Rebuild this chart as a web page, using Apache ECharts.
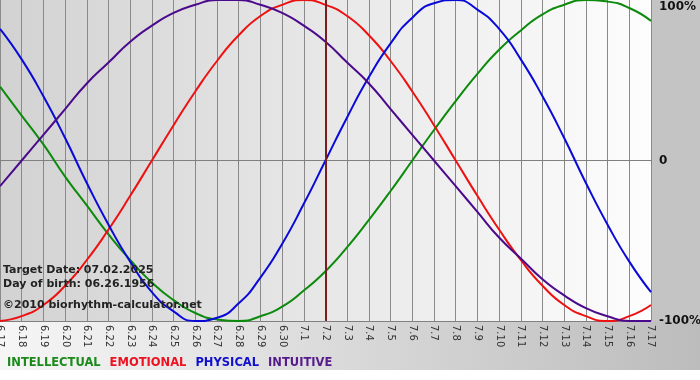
<!DOCTYPE html>
<html>
<head>
<meta charset="utf-8">
<script src="https://cdn.jsdelivr.net/npm/echarts@6/dist/echarts.min.js"></script>
<style>
html,body{margin:0;padding:0;background:#fff;}
#c{width:700px;height:380px;}
</style>
</head>
<body>
<div id="c"></div>
<script>
var days = ['6.17','6.18','6.19','6.20','6.21','6.22','6.23','6.24','6.25','6.26','6.27','6.28','6.29','6.30',
            '7.1','7.2','7.3','7.4','7.5','7.6','7.7','7.8','7.9','7.10','7.11','7.12','7.13','7.14','7.15','7.16','7.17'];
var intellectual = [0.46,0.28,0.10,-0.10,-0.28,-0.46,-0.62,-0.76,-0.87,-0.95,-0.99,-1.00,-0.97,-0.91,-0.81,-0.69,
                    -0.54,-0.37,-0.19,0.00,0.19,0.37,0.54,0.69,0.81,0.91,0.97,1.00,0.99,0.95,0.87];
var emotional = [-1.00,-0.97,-0.90,-0.78,-0.62,-0.43,-0.22,0.00,0.22,0.43,0.62,0.78,0.90,0.97,1.00,0.97,
                 0.90,0.78,0.62,0.43,0.22,0.00,-0.22,-0.43,-0.62,-0.78,-0.90,-0.97,-1.00,-0.97,-0.90];
var physical = [0.82,0.63,0.40,0.14,-0.14,-0.40,-0.63,-0.82,-0.94,-1.00,-0.98,-0.89,-0.73,-0.52,-0.27,0.00,
                0.27,0.52,0.73,0.89,0.98,1.00,0.94,0.82,0.63,0.40,0.14,-0.14,-0.40,-0.63,-0.82];
var intuitive = [-0.16,0.00,0.16,0.32,0.48,0.61,0.74,0.84,0.92,0.97,1.00,1.00,0.97,0.92,0.84,0.74,
                 0.61,0.48,0.32,0.16,0.00,-0.16,-0.32,-0.48,-0.61,-0.74,-0.84,-0.92,-0.97,-1.00,-1.00];
var yTicks = {'1':'100%','0':'0','-1':'-100%'};
var targetDay = '7.2';
var infoLines = ['Target Date: 07.02.2025','Day of birth: 06.26.1956','\u00a92010 biorhythm-calculator.net'];
var legendNames = ['INTELLECTUAL','EMOTIONAL','PHYSICAL','INTUITIVE'];
var colors = ['#0b8a0b','#ee1111','#0a0ad8','#4b0a8c'];
var legendColors = ['#1a8a1a','#ee1122','#1010cc','#551a8b'];

var chart = echarts.init(document.getElementById('c'), null, {renderer:'canvas'});
var FONT = 'Verdana, "DejaVu Sans", sans-serif';
var seriesData = [intellectual, emotional, physical, intuitive];
var series = seriesData.map(function(d, i){
  var s = {
    name: legendNames[i], type:'line', data:d, smooth:0.55, showSymbol:false, symbol:'none',
    lineStyle:{color:colors[i], width:2}, itemStyle:{color:colors[i]}, z:3+i, clip:false,
    emphasis:{disabled:true}
  };
  if(i===0){
    s.markLine = {silent:true, symbol:['none','none'], label:{show:false},
      lineStyle:{color:'#7a1f1f', width:2, type:'solid'},
      data:[{xAxis:targetDay}], z:10};
  }
  return s;
});
chart.setOption({
  animation:false,
  backgroundColor:'#ffffff',
  graphic:[
    {type:'rect', left:0, top:0, z:-10, silent:true, shape:{x:0,y:0,width:700,height:370},
     style:{fill:{type:'linear',x:0,y:0,x2:1,y2:0,colorStops:[{offset:0,color:'#f6f6f6'},{offset:1,color:'#bcbcbc'}]}}},
    {type:'rect', left:651, top:0, z:-9, silent:true, shape:{x:0,y:0,width:49,height:321},
     style:{fill:'#c4c4c4'}},
    {type:'text', left:3, top:265, z:20, style:{text:infoLines[0], font:'bold 11px '+FONT, fill:'#222'}},
    {type:'text', left:3, top:279, z:20, style:{text:infoLines[1], font:'bold 11px '+FONT, fill:'#222'}},
    {type:'text', left:3, top:300, z:20, style:{text:infoLines[2], font:'bold 11px '+FONT, fill:'#222'}}
  ],
  legend:{
    left:-3, top:352, icon:'none', itemWidth:0, itemHeight:0, itemGap:4, selectedMode:false,
    data: legendNames.map(function(n,i){return {name:n, textStyle:{color:legendColors[i]}};}),
    textStyle:{fontFamily:FONT, fontWeight:'bold', fontSize:11.5}
  },
  grid:{left:0, right:49, top:0, bottom:59, show:true, borderWidth:0, containLabel:false, outerBoundsMode:'none',
    backgroundColor:{type:'linear',x:0,y:0,x2:1,y2:0,colorStops:[{offset:0,color:'#d2d2d2'},{offset:1,color:'#fdfdfd'}]}},
  xAxis:{
    type:'category', data:days, boundaryGap:false,
    axisLine:{show:true, lineStyle:{color:'#808080', width:1}},
    axisTick:{show:true, interval:0, length:4, lineStyle:{color:'#808080'}},
    axisLabel:{interval:0, rotate:-90, fontSize:10, fontFamily:FONT, color:'#333', margin:4, hideOverlap:false},
    splitLine:{show:true, interval:0, lineStyle:{color:'#8a8a8a', width:1}}
  },
  yAxis:{
    type:'value', min:-1, max:1, interval:1, position:'right',
    axisLine:{show:false}, axisTick:{show:false},
    axisLabel:{margin:8, fontFamily:FONT, fontWeight:'bold', fontSize:12, color:'#111',
      formatter:function(v){ var t = yTicks[String(v)]; return v===1 ? '{top|'+t+'}' : t; },
      rich:{top:{fontFamily:FONT, fontWeight:'bold', fontSize:12, color:'#111', padding:[14,0,0,0]}}},
    splitLine:{show:true, lineStyle:{color:['#808080','#808080','rgba(0,0,0,0)'], width:1}}
  },
  series: series
});
</script>
</body>
</html>
